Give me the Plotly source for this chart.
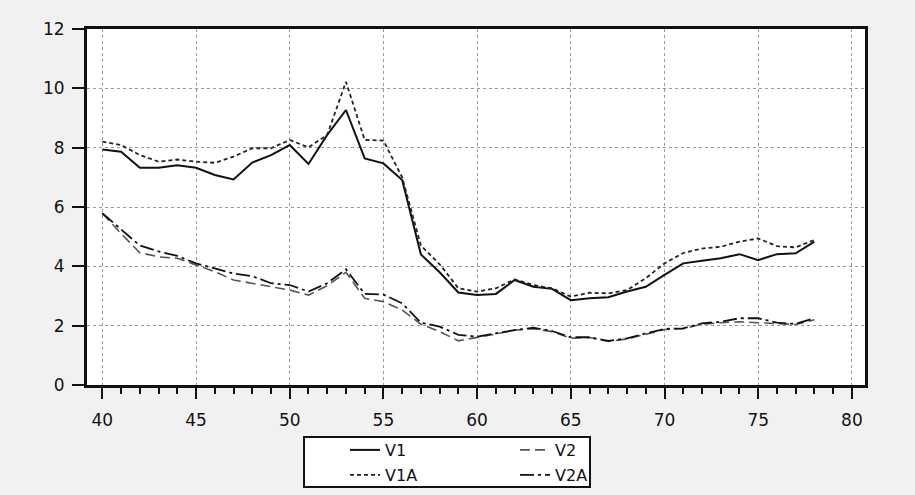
import plotly.graph_objects as go

years = list(range(40, 79))
v1 = [7.94, 7.86, 7.32, 7.32, 7.41, 7.32, 7.08, 6.93, 7.50, 7.75, 8.09, 7.45, 8.43, 9.27, 7.64, 7.47, 6.91,
      4.40, 3.80, 3.12, 3.03, 3.07, 3.54, 3.31, 3.24, 2.86, 2.92, 2.96, 3.15, 3.31, 3.71, 4.10, 4.19, 4.27,
      4.41, 4.21, 4.41, 4.44, 4.83]
v1a = [8.20, 8.09, 7.75, 7.53, 7.60, 7.53, 7.49, 7.70, 7.98, 7.98, 8.26, 8.01, 8.43, 10.22, 8.26, 8.24, 7.00,
       4.70, 4.07, 3.26, 3.15, 3.26, 3.56, 3.37, 3.26, 2.98, 3.11, 3.09, 3.20, 3.60, 4.10, 4.45, 4.60, 4.66,
       4.83, 4.94, 4.68, 4.64, 4.89]
v2 = [5.79, 5.10, 4.46, 4.32, 4.27, 4.05, 3.82, 3.54, 3.43, 3.31, 3.20, 3.03, 3.35, 3.80, 2.92, 2.81, 2.53,
      2.05, 1.80, 1.49, 1.60, 1.72, 1.85, 1.90, 1.80, 1.58, 1.60, 1.47, 1.55, 1.72, 1.87, 1.90, 2.05, 2.10,
      2.13, 2.10, 2.08, 2.04, 2.20]
v2a = [5.79, 5.25, 4.70, 4.50, 4.35, 4.10, 3.93, 3.76, 3.67, 3.43, 3.37, 3.15, 3.43, 3.90, 3.07, 3.05, 2.75,
       2.10, 1.97, 1.69, 1.63, 1.74, 1.85, 1.93, 1.82, 1.61, 1.61, 1.49, 1.57, 1.74, 1.89, 1.91, 2.08, 2.13,
       2.25, 2.25, 2.10, 2.06, 2.25]

y_ticks = [0, 2, 4, 6, 8, 10, 12]
x_ticks = [40, 45, 50, 55, 60, 65, 70, 75, 80]

fig = go.Figure()
fig.add_trace(go.Scatter(x=years, y=v1, name="V1", mode="lines",
                         line=dict(color="#111111", width=2, dash="solid"), legend="legend"))
fig.add_trace(go.Scatter(x=years, y=v2, name="V2", mode="lines",
                         line=dict(color="#555555", width=1.6, dash="10px,5px"), legend="legend"))
fig.add_trace(go.Scatter(x=years, y=v1a, name="V1A", mode="lines",
                         line=dict(color="#222222", width=1.8, dash="4px,3px"), legend="legend2"))
fig.add_trace(go.Scatter(x=years, y=v2a, name="V2A", mode="lines",
                         line=dict(color="#111111", width=1.8, dash="14px,4px,3px,4px"), legend="legend2"))

axis_font = dict(family="DejaVu Sans, Arial, sans-serif", size=17, color="#111111")
leg_font = dict(family="DejaVu Sans, Arial, sans-serif", size=16, color="#111111")

W, H = 915, 495
L, R, T, B = 87, 50, 29, 110
PW, PH = W - L - R, H - T - B

def px_x(p):
    return (p - L) / PW

def px_y(p):
    return (H - B - p) / PH

fig.update_layout(
    width=W, height=H,
    margin=dict(l=L, r=R, t=T, b=B, autoexpand=False),
    paper_bgcolor="#f1f1f1",
    plot_bgcolor="#ffffff",
    font=axis_font,
    xaxis=dict(range=[39.18, 80.7], tickvals=x_ticks, ticktext=[str(t) for t in x_ticks],
               ticks="outside", ticklen=11, tickwidth=2, tickcolor="#111111",
               minor=dict(dtick=1, tick0=40, ticks="outside", ticklen=6, tickwidth=2,
                          tickcolor="#111111", showgrid=False),
               showgrid=True, gridcolor="#999999", griddash="dot", gridwidth=1,
               showline=True, linecolor="#111111", linewidth=3, mirror=True,
               zeroline=False, tickfont=axis_font, ticklabelstandoff=7),
    yaxis=dict(range=[0, 12], tickvals=y_ticks, ticktext=[str(t) for t in y_ticks],
               ticks="outside", ticklen=12, tickwidth=2, tickcolor="#111111",
               showgrid=True, gridcolor="#999999", griddash="dot", gridwidth=1,
               showline=True, linecolor="#111111", linewidth=3, mirror=True,
               zeroline=False, tickfont=axis_font, ticklabelstandoff=4),
    legend=dict(orientation="h", xref="container", yref="container",
                x=345 / W, xanchor="left", y=1 - 433 / H, yanchor="top",
                bgcolor="rgba(0,0,0,0)", borderwidth=0, entrywidth=125, entrywidthmode="pixels",
                font=leg_font),
    legend2=dict(orientation="h", xref="container", yref="container",
                 x=345 / W, xanchor="left", y=1 - 458 / H, yanchor="top",
                 bgcolor="rgba(0,0,0,0)", borderwidth=0, entrywidth=125, entrywidthmode="pixels",
                 font=leg_font),
    shapes=[
        dict(type="rect", xref="paper", yref="paper",
             x0=px_x(304), x1=px_x(590), y0=px_y(437), y1=px_y(487),
             line=dict(width=0), fillcolor="#ffffff", layer="below"),
        dict(type="rect", xref="paper", yref="paper",
             x0=px_x(304), x1=px_x(590), y0=px_y(437), y1=px_y(487),
             line=dict(color="#111111", width=2), fillcolor="rgba(0,0,0,0)", layer="above"),
    ],
    showlegend=True,
)

fig.write_html("out.html", config={"displayModeBar": False},
               post_script="document.body.style.margin='0';document.body.style.overflow='hidden';")
